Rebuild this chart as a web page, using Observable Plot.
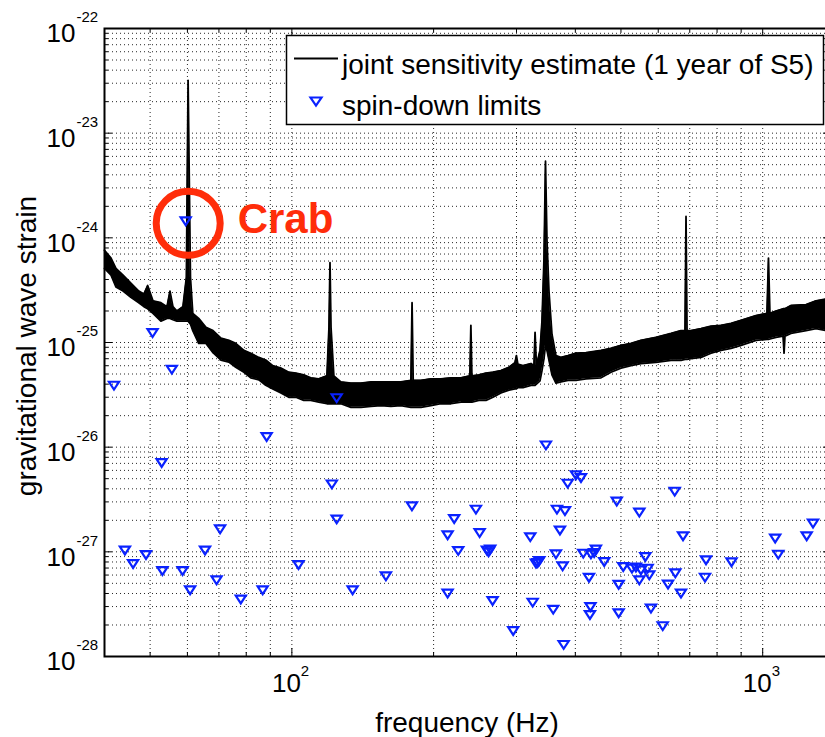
<!DOCTYPE html>
<html><head><meta charset="utf-8">
<script src="https://cdn.jsdelivr.net/npm/d3@7"></script>
<script src="https://cdn.jsdelivr.net/npm/@observablehq/plot@0.6"></script>
<style>
html,body{margin:0;padding:0;background:#fff;overflow:hidden;}
#chart svg{max-width:none !important;display:block;}
</style></head><body><div id="chart"></div>
<script>
// ---- sensitivity curve (upper / lower envelope of the noisy band) ----
const curveFreq = [40,41.3,42.3,43.8,45.5,47.3,48.5,49.4,50.7,52.7,54.3,55.1,55.9,57.0,58.7,59.7,60.2,60.9,61.6,63.4,65.7,68.0,70.7,73.5,76.0,79.1,81.8,85.1,88.0,91.1,94.8,98.5,102,106,109.7,114.1,118.7,119.9,120.5,121.1,122.8,127.1,133.5,140.2,147.2,154.6,162.3,170.4,179.0,180.0,181.0,188.0,197.3,207.3,217.7,228.6,238.8,240.0,241.2,249.5,258.4,267.3,278,289.1,297.7,299.9,302,309.6,322,326.7,328.5,330.7,336.5,339.8,343.1,345.7,348.2,351.6,356.8,363.8,372.8,385.9,401.2,421.3,453.5,476.1,500,525.1,551.3,593.4,638.8,670.6,683.9,687.3,690.7,704.3,739.6,776.6,815.5,856.4,899.4,967.8,1021,1028.7,1036,1067,1105,1110,1115,1148,1236,1298,1363,1400];
const curveUpper = [7.6e-25,6.4e-25,5.1e-25,4.4e-25,3.7e-25,3.1e-25,2.9e-25,3.5e-25,2.5e-25,2.4e-25,2.2e-25,3.1e-25,2.2e-25,2.0e-25,2.2e-25,4.2e-25,3.2e-23,4.2e-25,1.9e-25,1.7e-25,1.4e-25,1.3e-25,1.1e-25,1.05e-25,9.8e-26,8.4e-26,7.9e-26,7.2e-26,6.8e-26,6.0e-26,5.7e-26,5.2e-26,5.1e-26,4.9e-26,4.6e-26,4.5e-26,4.8e-26,1.4e-25,5.8e-25,1.4e-25,4.8e-26,4.2e-26,4.1e-26,4.1e-26,4.2e-26,4.2e-26,4.2e-26,4.2e-26,4.35e-26,2.4e-25,4.35e-26,4.35e-26,4.5e-26,4.5e-26,4.6e-26,4.6e-26,4.8e-26,1.46e-25,4.8e-26,4.9e-26,5.1e-26,5.2e-26,5.4e-26,5.8e-26,6.4e-26,7.5e-26,6.2e-26,6.0e-26,6.3e-26,6.0e-26,1.25e-25,6.0e-26,8.4e-26,1.6e-25,6.1e-25,5.4e-24,9.5e-25,3.1e-25,1.2e-25,7.5e-26,7.2e-26,7.5e-26,7.9e-26,8.0e-26,8.4e-26,8.8e-26,9.4e-26,9.8e-26,1.05e-25,1.12e-25,1.22e-25,1.3e-25,1.3e-25,1.6e-24,1.3e-25,1.3e-25,1.36e-25,1.43e-25,1.46e-25,1.52e-25,1.63e-25,1.81e-25,1.9e-25,6.4e-25,1.9e-25,2.0e-25,2.1e-25,2.1e-25,2.1e-25,2.26e-25,2.3e-25,2.5e-25,2.6e-25,2.7e-25];
const curveLower = [5.1e-25,4.4e-25,3.4e-25,3.1e-25,2.7e-25,2.4e-25,2.2e-25,2.1e-25,1.9e-25,1.6e-25,1.7e-25,1.7e-25,1.65e-25,1.6e-25,1.6e-25,1.6e-25,1.6e-25,1.5e-25,1.3e-25,9.8e-26,9.8e-26,8.0e-26,6.8e-26,6.5e-26,5.8e-26,5.2e-26,4.6e-26,4.4e-26,3.9e-26,3.6e-26,3.3e-26,3.0e-26,3.0e-26,2.8e-26,2.8e-26,2.7e-26,2.6e-26,2.6e-26,2.6e-26,2.6e-26,2.6e-26,2.6e-26,2.4e-26,2.4e-26,2.45e-26,2.5e-26,2.45e-26,2.5e-26,2.4e-26,2.4e-26,2.4e-26,2.4e-26,2.5e-26,2.6e-26,2.6e-26,2.7e-26,2.7e-26,2.7e-26,2.7e-26,2.8e-26,2.8e-26,3.0e-26,3.3e-26,3.5e-26,3.6e-26,3.6e-26,3.7e-26,3.7e-26,3.9e-26,3.9e-26,3.9e-26,4.0e-26,4.3e-26,5.4e-26,7.0e-26,9.4e-26,8.4e-26,6.8e-26,4.9e-26,4.1e-26,4.2e-26,4.35e-26,4.35e-26,4.5e-26,4.6e-26,5.2e-26,5.7e-26,6.0e-26,6.3e-26,6.45e-26,6.75e-26,6.75e-26,6.9e-26,6.9e-26,6.9e-26,7.0e-26,7.2e-26,7.9e-26,8.4e-26,8.8e-26,9.4e-26,1.05e-25,1.07e-25,1.07e-25,1.08e-25,1.12e-25,1.15e-25,7.9e-26,1.15e-25,1.22e-25,1.3e-25,1.36e-25,1.3e-25,1.35e-25];

// ---- spin-down limits ----
const spinFreq = [59.5,50.6,55.6,41.9,124.5,88.4,52.9,121.6,124.5,70.4,44.2,65.4,49.0,46.0,103.3,53.1,58.6,69.2,60.8,86.7,77.9,134.6,158.4,179.9,214.2,221.2,214.2,225.6,246.0,250.5,259.6,263.8,261.7,266.9,295.2,346.4,385.3,401.2,411.2,365.6,380.2,371.0,320.9,363.8,332.7,335.3,329.9,375.9,415.8,427.6,324.7,359.0,377.8,430.7,429.6,650.3,489.8,547.0,677.3,1063,1279,1240,1079,442.3,438.6,431.7,460.7,563.3,505.6,527.6,538.0,551.3,569.7,574.2,547.0,494.4,652.3,629.4,670.6,757.9,754.3,858.6,494.4,579.0,613.3];
const spinStrain = [1.44e-24,1.23e-25,5.5e-26,3.87e-26,2.94e-26,1.25e-26,7.05e-27,4.41e-27,2.04e-27,1.64e-27,1.03e-27,1.03e-27,9.32e-28,7.65e-28,7.48e-28,6.55e-28,6.55e-28,5.34e-28,4.29e-28,4.29e-28,3.5e-28,4.29e-28,5.83e-28,2.72e-27,3.99e-28,2.06e-27,1.44e-27,1.02e-27,2.53e-27,1.51e-27,1.03e-27,1.05e-27,9.89e-28,3.39e-28,1.75e-28,1.04e-26,4.48e-27,5.38e-27,5.07e-27,2.53e-27,2.45e-27,1.6e-27,1.38e-27,9.46e-28,7.82e-28,8.17e-28,7.72e-28,7.27e-28,9.61e-28,5.65e-28,3.27e-28,2.8e-28,1.29e-28,2.97e-28,2.49e-28,3.76e-27,3.02e-27,2.37e-27,1.41e-27,1.34e-27,1.86e-27,1.41e-27,9.4e-28,1.05e-27,9.74e-28,9.46e-28,7.99e-28,8.92e-28,7.16e-28,6.91e-28,7.07e-28,6.66e-28,6.91e-28,5.96e-28,5.34e-28,4.84e-28,6.23e-28,4.87e-28,3.99e-28,8.3e-28,5.67e-28,7.94e-28,2.59e-28,2.87e-28,1.95e-28];
const crabFreq = 59.5, crabStrain = 1.44e-24, crabLabel = "Crab";

// ---- ticks ----
const xTicks = [100, 1000];
const xTickExps = ["2", "3"];
const xMinorTicks = [40,50,60,70,80,90,200,300,400,500,600,700,800,900];
const yTicks = [1e-28,1e-27,1e-26,1e-25,1e-24,1e-23,1e-22];
const yTickExps = ["-28","-27","-26","-25","-24","-23","-22"];
const yMantissas = [2,3,4,5,6,7,8,9];
const yMinorTicks = yTicks.slice(0, -1).flatMap(d => yMantissas.map(m => m * d));

const xLabel = "frequency (Hz)";
const yLabel = "gravitational wave strain";
const legendLabels = ["joint sensitivity estimate (1 year of S5)", "spin-down limits"];

const curve = curveFreq.map((f, i) => ({f, hi: curveUpper[i], lo: curveLower[i]}));
const spin = spinFreq.map((f, i) => ({f, h: spinStrain[i]}));

const W = 832, H = 737, mL = 104, mR = 1, mT = 28, mB = 81;
const FW = W - mL - mR, FH = H - mT - mB;
const FONT = "'Liberation Sans', Arial, Helvetica, sans-serif";
const BLUE = "#0a22ff", RED = "#ff2d0a";

const downTri = {
  draw(ctx, size) {
    const a = Math.sqrt(size / Math.PI);
    ctx.moveTo(-1.3 * a, -a); ctx.lineTo(1.3 * a, -a); ctx.lineTo(0, a); ctx.closePath();
  }
};

const allX = [...xMinorTicks, ...xTicks];
const allY = [...yMinorTicks, ...yTicks];
const grid = {stroke: "#000", strokeOpacity: 0.85, strokeDasharray: "1,3", strokeWidth: 1};

const plot = Plot.plot({
  width: W, height: H,
  marginLeft: mL, marginRight: mR, marginTop: mT, marginBottom: mB,
  style: {fontFamily: FONT, background: "white", maxWidth: "none"},
  x: {type: "log", domain: [40, 1400], axis: null},
  y: {type: "log", domain: [1e-28, 1e-22], axis: null},
  marks: [
    Plot.ruleX(allX, {x: d => d, ...grid}),
    Plot.ruleY(allY, {y: d => d, ...grid}),
    Plot.areaY(curve, {x: "f", y1: "lo", y2: "hi", fill: "black"}),
    Plot.line(curve, {x: "f", y: "hi", stroke: "black", strokeWidth: 1.8}),
    Plot.line(curve, {x: "f", y: "lo", stroke: "black", strokeWidth: 1.8}),
    Plot.dot(spin, {x: "f", y: "h", symbol: downTri, r: 3.9, stroke: BLUE, fill: "none", strokeWidth: 2.2}),
    // ticks (inward, all four sides)
    Plot.ruleX(xTicks, {x: d => d, insetTop: FH - 8, stroke: "black"}),
    Plot.ruleX(xTicks, {x: d => d, insetBottom: FH - 8, stroke: "black"}),
    Plot.ruleX(xMinorTicks, {x: d => d, insetTop: FH - 4, stroke: "black"}),
    Plot.ruleX(xMinorTicks, {x: d => d, insetBottom: FH - 4, stroke: "black"}),
    Plot.ruleY(yTicks, {y: d => d, insetRight: FW - 8, stroke: "black"}),
    Plot.ruleY(yTicks, {y: d => d, insetLeft: FW - 8, stroke: "black"}),
    Plot.ruleY(yMinorTicks, {y: d => d, insetRight: FW - 4, stroke: "black"}),
    Plot.ruleY(yMinorTicks, {y: d => d, insetLeft: FW - 4, stroke: "black"}),
    Plot.frame({stroke: "black", strokeWidth: 2}),
    // tick labels
    Plot.text(yTicks, {y: d => d, text: () => "10", frameAnchor: "left", textAnchor: "end", dx: -29, dy: 5.4, fontSize: 26, fill: "black"}),
    Plot.text(yTicks, {y: d => d, text: (d, i) => yTickExps[i], frameAnchor: "left", textAnchor: "start", dx: -28, dy: -11.1, fontSize: 15, fill: "black"}),
    Plot.text(xTicks, {x: d => d, text: () => "10", frameAnchor: "bottom", textAnchor: "end", dx: 9, dy: 35.7, fontSize: 26, fill: "black"}),
    Plot.text(xTicks, {x: d => d, text: (d, i) => xTickExps[i], frameAnchor: "bottom", textAnchor: "start", dx: 9, dy: 19.2, fontSize: 15, fill: "black"}),
    // Crab annotation
    Plot.dot([{f: crabFreq, h: crabStrain}], {x: "f", y: "h", r: 32, dx: 2.5, dy: 2, stroke: RED, strokeWidth: 7, fill: "none"}),
    Plot.text([{f: crabFreq, h: crabStrain}], {x: "f", y: "h", text: () => crabLabel, dx: 52, dy: -2, textAnchor: "start", fontSize: 42, fontWeight: "bold", fill: RED})
  ]
});

document.getElementById("chart").appendChild(plot);
const svg = d3.select(plot);

// axis titles
svg.append("text").attr("x", 467).attr("y", 732).attr("text-anchor", "middle")
  .attr("font-family", FONT).attr("font-size", 28).attr("fill", "black").text(xLabel);
svg.append("text").attr("transform", "translate(36,346) rotate(-90)").attr("text-anchor", "middle")
  .attr("font-family", FONT).attr("font-size", 28).attr("fill", "black").text(yLabel);

// legend
const lg = svg.append("g").attr("font-family", FONT).attr("font-size", 28).attr("text-anchor", "start");
lg.append("rect").attr("x", 286.5).attr("y", 35.5).attr("width", 537).attr("height", 89)
  .attr("fill", "white").attr("stroke", "black").attr("stroke-width", 1.5);
lg.append("line").attr("x1", 294).attr("x2", 338).attr("y1", 58.5).attr("y2", 58.5)
  .attr("stroke", "black").attr("stroke-width", 2);
lg.append("text").attr("x", 342).attr("y", 74).attr("text-anchor", "start").attr("fill", "black").text(legendLabels[0]);
lg.append("path").attr("d", "M310.5,97.5L321.5,97.5L316,105.5Z").attr("fill", "none")
  .attr("stroke", BLUE).attr("stroke-width", 2.2);
lg.append("text").attr("x", 342).attr("y", 115).attr("text-anchor", "start").attr("fill", "black").text(legendLabels[1]);
</script></body></html>
